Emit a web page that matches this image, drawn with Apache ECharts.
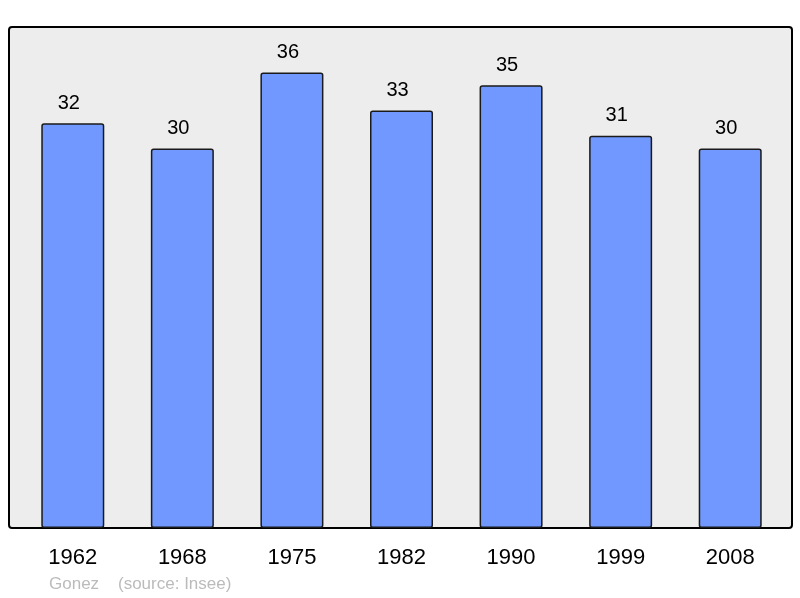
<!DOCTYPE html>
<html><head><meta charset="utf-8">
<script src="https://cdn.jsdelivr.net/npm/echarts@6/dist/echarts.min.js"></script>
<style>html,body{margin:0;padding:0;background:#fff}#c{width:800px;height:598px}</style>
</head><body><div id="c"></div>
<script>
const categories = ['1962','1968','1975','1982','1990','1999','2008'];
const values = [32, 30, 36, 33, 35, 31, 30];
const yMax = 39.6;
const chart = echarts.init(document.getElementById('c'), null, {renderer:'canvas'});
chart.setOption({
  animation:false,
  backgroundColor:'#ffffff',
  textStyle:{fontFamily:'Liberation Sans, Arial, sans-serif'},
  graphic:[
    {type:'rect', z:0, shape:{x:9, y:27, width:783, height:501, r:3},
     style:{fill:'#ededed', stroke:'#000', lineWidth:2}},
    {type:'text', z:10, left:49, top:576, style:{text:'Gonez', fill:'#bbbbbb', font:'17px "Liberation Sans", Arial, sans-serif'}},
    {type:'text', z:10, left:118, top:576, style:{text:'(source: Insee)', fill:'#bbbbbb', font:'17px "Liberation Sans", Arial, sans-serif'}}
  ],
  grid:{left:18, top:27, width:767, height:501, containLabel:false},
  xAxis:{type:'category', data:categories,
    axisLine:{show:false}, axisTick:{show:false},
    axisLabel:{color:'#000', fontSize:22, margin:19, fontFamily:'Liberation Sans, Arial, sans-serif'}},
  yAxis:{type:'value', min:0, max:yMax, show:false, splitLine:{show:false}},
  series:[{type:'bar', data:values, barWidth:63, z:5,
    itemStyle:{color:'#7098ff', borderColor:'#1a1a1a', borderWidth:1.5, borderRadius:2},
    label:{show:true, position:'top', distance:10, offset:[-4,0], color:'#000', fontSize:20, fontFamily:'Liberation Sans, Arial, sans-serif'}}]
});
</script></body></html>
